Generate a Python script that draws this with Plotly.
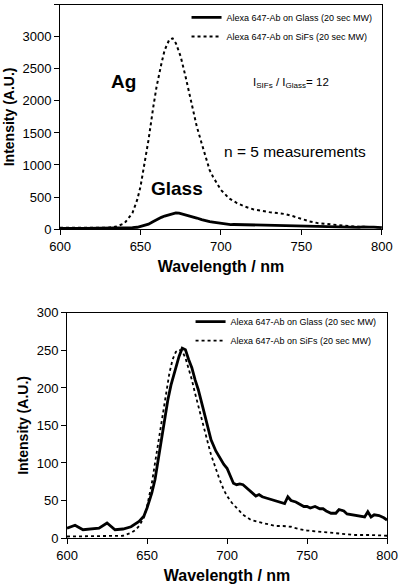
import plotly.graph_objects as go

# ---- data ----
wl_glass = [600, 605, 610, 615, 620, 625, 630, 635, 640, 645, 648, 650, 653, 655, 658, 660, 663, 665,
            668, 670, 672, 674, 676, 678, 680, 682, 685, 688, 690, 693, 695, 698, 700, 702, 704, 706,
            708, 710, 712, 715, 718, 720, 722, 725, 728, 730, 733, 736, 738, 740, 743, 745, 748, 750,
            752, 755, 758, 760, 762, 765, 768, 770, 773, 775, 778, 780, 783, 786, 788, 790, 792, 795,
            798, 800]
glass = [13, 17, 11, 12, 13, 20, 11, 12, 15, 22, 29, 40, 60, 78, 118, 149, 184, 204,
         229, 242, 253, 251, 238, 227, 211, 198, 173, 149, 131, 116, 109, 98, 93, 84, 73, 71,
         72, 71, 67, 62, 56, 58, 55, 53, 51, 49, 48, 46, 55, 50, 48, 46, 42, 42,
         40, 42, 39, 39, 36, 33, 33, 38, 36, 32, 31, 30, 30, 28, 35, 28, 31, 30,
         27, 24]

wl_sifs = [600, 610, 620, 630, 635, 640, 645, 648, 650, 653, 655, 658, 660, 663, 665, 668, 670, 672,
           675, 678, 680, 683, 685, 688, 690, 693, 695, 698, 700, 703, 705, 710, 715, 720, 725, 730,
           735, 740, 745, 750, 755, 760, 770, 780, 790, 800]
sifs_raw = [20, 18, 20, 22, 40, 90, 250, 460, 660, 1080, 1390, 1910, 2220, 2580, 2790, 2960, 2975, 2900,
            2690, 2380, 2170, 1860, 1600, 1340, 1180, 920, 820, 690, 610, 535, 480, 405, 350, 310, 285, 265,
            250, 235, 200, 155, 120, 95, 70, 45, 35, 30]

wl_sifs_n = [600, 620, 630, 635, 640, 643, 645, 648, 650, 653, 655, 658, 660, 662, 664, 666, 668, 670,
             672, 674, 676, 678, 680, 683, 685, 688, 690, 693, 695, 698, 700, 703, 705, 708, 710, 715,
             720, 725, 730, 735, 740, 745, 750, 760, 770, 780, 790, 800]
sifs_norm = [2, 2, 2, 3, 7, 11, 16, 27, 42, 73, 100, 140, 169, 198, 220, 238, 248, 251,
             249, 240, 227, 211, 193, 167, 149, 127, 111, 91, 80, 64, 56, 47, 42, 36, 31, 24,
             21, 18, 16, 16, 15, 12, 10, 8, 6, 4, 4, 3]

x_ticks = [600, 650, 700, 750, 800]

name_glass = "Alexa 647-Ab on Glass (20 sec MW)"
name_sifs = "Alexa 647-Ab on SiFs (20 sec MW)"

FONT = "Liberation Sans, Arial, sans-serif"

fig = go.Figure()
# top panel
fig.add_trace(go.Scatter(x=wl_glass, y=glass, mode="lines", name=name_glass,
                         line=dict(color="black", width=2.8), xaxis="x", yaxis="y", legend="legend"))
fig.add_trace(go.Scatter(x=wl_sifs, y=sifs_raw, mode="lines", name=name_sifs,
                         line=dict(color="black", width=2, dash="dot"), xaxis="x", yaxis="y", legend="legend"))
# bottom panel
fig.add_trace(go.Scatter(x=wl_glass, y=glass, mode="lines", name=name_glass,
                         line=dict(color="black", width=2.8), xaxis="x2", yaxis="y2", legend="legend2"))
fig.add_trace(go.Scatter(x=wl_sifs_n, y=sifs_norm, mode="lines", name=name_sifs,
                         line=dict(color="black", width=1.8, dash="dot"), xaxis="x2", yaxis="y2", legend="legend2"))

axis_common = dict(showline=True, linecolor="black", linewidth=1, mirror=True, ticks="outside",
                   ticklen=5, tickcolor="black", showgrid=False, zeroline=False, automargin=False,
                   tickfont=dict(family=FONT, size=13, color="black"))
xtitle_font = dict(family=FONT, size=16, color="black", weight="bold")
ytitle_font = dict(family=FONT, size=14, color="black", weight="bold")

fig.update_layout(
    width=399, height=586,
    margin=dict(l=0, r=0, t=0, b=0),
    paper_bgcolor="white", plot_bgcolor="white",
    font=dict(family=FONT, color="black"),
    xaxis=dict(domain=[0.1504, 0.957], range=[600, 800], tickvals=x_ticks,
               title=dict(text="<b>Wavelength / nm</b>", font=xtitle_font, standoff=8), anchor="y",
               **axis_common),
    yaxis=dict(domain=[0.609, 0.992], range=[0, 3500], dtick=500,
               title=dict(text="<b>Intensity (A.U.)</b>", font=ytitle_font, standoff=4), anchor="x",
               **axis_common),
    xaxis2=dict(domain=[0.168, 0.970], range=[600, 800], tickvals=x_ticks,
                title=dict(text="<b>Wavelength / nm</b>", font=xtitle_font, standoff=8), anchor="y2",
                **axis_common),
    yaxis2=dict(domain=[0.0819, 0.466], range=[0, 300], dtick=50,
                title=dict(text="<b>Intensity (A.U.)</b>", font=ytitle_font, standoff=4), anchor="x2",
                **axis_common),
    legend=dict(x=0.4675, y=0.995, xanchor="left", yanchor="top", bgcolor="rgba(0,0,0,0)",
                font=dict(family=FONT, size=9, color="black"), tracegroupgap=0, itemwidth=30),
    legend2=dict(x=0.4776, y=0.476, xanchor="left", yanchor="top", bgcolor="rgba(0,0,0,0)",
                 font=dict(family=FONT, size=9, color="black"), tracegroupgap=0, itemwidth=30),
    showlegend=True,
)

annots = [
    dict(x=123, y=82, text="<b>Ag</b>", size=19),
    dict(x=177, y=188, text="<b>Glass</b>", size=19),
    dict(x=295, y=152, text="n = 5 measurements", size=15.5),
    dict(x=291, y=83, text="I<sub>SIFs</sub> / I<sub>Glass</sub>= 12", size=11.5),
]
for a in annots:
    fig.add_annotation(x=a["x"] / 399, y=1 - a["y"] / 586, xref="paper", yref="paper",
                       text=a["text"], showarrow=False, xanchor="center", yanchor="middle",
                       font=dict(family=FONT, size=a["size"], color="black"))

# remove the browser's default 8px page margin so the figure fills the window
fig.write_html("out.html", config={"displayModeBar": False},
               post_script="document.body.style.margin='0px';")
